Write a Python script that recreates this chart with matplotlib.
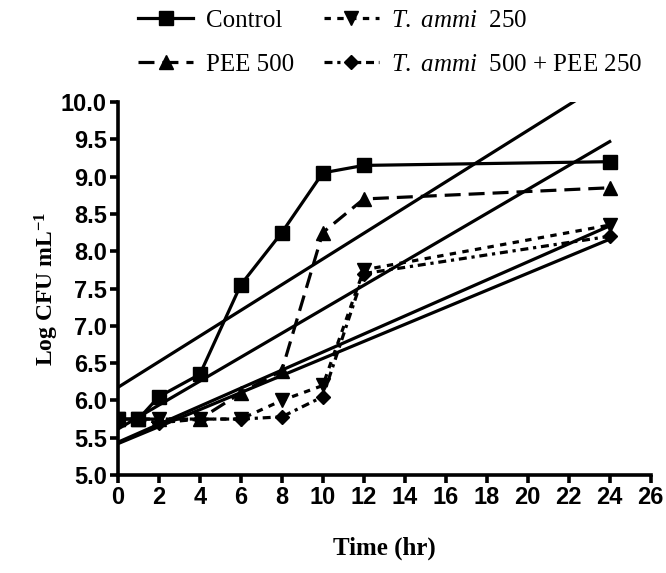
import numpy as np
import matplotlib
matplotlib.use('Agg')
import matplotlib.pyplot as plt

# Data
time_hr = [0, 1, 2, 4, 6, 8, 10, 12, 24]
control = [5.75, 5.75, 6.05, 6.35, 7.55, 8.25, 9.05, 9.15, 9.20]
pee_500 = [5.75, 5.75, 5.75, 5.75, 6.10, 6.40, 8.25, 8.70, 8.85]
tammi_250 = [5.75, 5.75, 5.75, 5.75, 5.75, 6.00, 6.20, 7.75, 8.35]
tammi_pee = [5.75, 5.75, 5.70, 5.75, 5.75, 5.78, 6.05, 7.70, 8.20]

labels = ['Control', 'PEE 500', r'$\mathit{T.\ ammi}$  250',
          r'$\mathit{T.\ ammi}$  500 + PEE 250']
x_ticks = list(range(0, 27, 2))
y_ticks = [5.0, 5.5, 6.0, 6.5, 7.0, 7.5, 8.0, 8.5, 9.0, 9.5, 10.0]

plt.rcParams['mathtext.fontset'] = 'custom'
plt.rcParams['mathtext.rm'] = 'Liberation Serif'
plt.rcParams['mathtext.it'] = 'Liberation Serif:italic'
plt.rcParams['mathtext.bf'] = 'Liberation Serif:bold'

fig = plt.figure(figsize=(6.66, 5.73), dpi=100)
ax = fig.add_axes([0.177, 0.171, 0.800, 0.651])

series = [control, pee_500, tammi_250, tammi_pee]
styles = [
    dict(linestyle='-', marker='s', markersize=10),
    dict(linestyle=(0, (5, 2.5)), marker='^', markersize=10),
    dict(linestyle=(0, (2, 2)), marker='v', markersize=10),
    dict(linestyle=(0, (2.5, 1.5, 1, 1.5)), marker='D', markersize=7.5),
]

handles = []
for y, st, lab in zip(series, styles, labels):
    h, = ax.plot(time_hr, y, color='black', linewidth=2.3, label=lab, **st)
    handles.append(h)

# linear trend lines through each series
xfit = np.array([0, 24])
for y in series:
    k, b = np.polyfit(time_hr, y, 1)
    ax.plot(xfit, k * xfit + b, color='black', linewidth=2.3)

ax.set_xlim(0, 26)
ax.set_ylim(5.0, 10.0)
ax.set_xticks(x_ticks)
ax.set_yticks(y_ticks)
ax.set_yticklabels([f'{v:.1f}' for v in y_ticks])
ax.spines['top'].set_visible(False)
ax.spines['right'].set_visible(False)
for s in ['left', 'bottom']:
    ax.spines[s].set_linewidth(2.6)
ax.tick_params(width=2.6, length=6, direction='out', pad=2)
for lbl in ax.get_xticklabels() + ax.get_yticklabels():
    lbl.set_fontfamily('Liberation Sans')
    lbl.set_fontweight('bold')
    lbl.set_fontsize(17)

ax.set_xlabel('Time (hr)', fontfamily='Liberation Serif', fontweight='bold',
              fontsize=18, labelpad=20)
ax.set_ylabel(r'Log CFU mL$^{\mathbf{-1}}$', fontfamily='Liberation Serif',
              fontweight='bold', fontsize=17, labelpad=0)

fig.legend(handles=handles, loc='upper left', bbox_to_anchor=(0.2, 0.993),
           ncol=2, frameon=False, handlelength=2.2, handletextpad=0.5,
           columnspacing=1.2, prop={'family': 'Liberation Serif', 'size': 18},
           borderaxespad=0.0, borderpad=0.2, labelspacing=0.87)

fig.savefig('out.png', dpi=100)
